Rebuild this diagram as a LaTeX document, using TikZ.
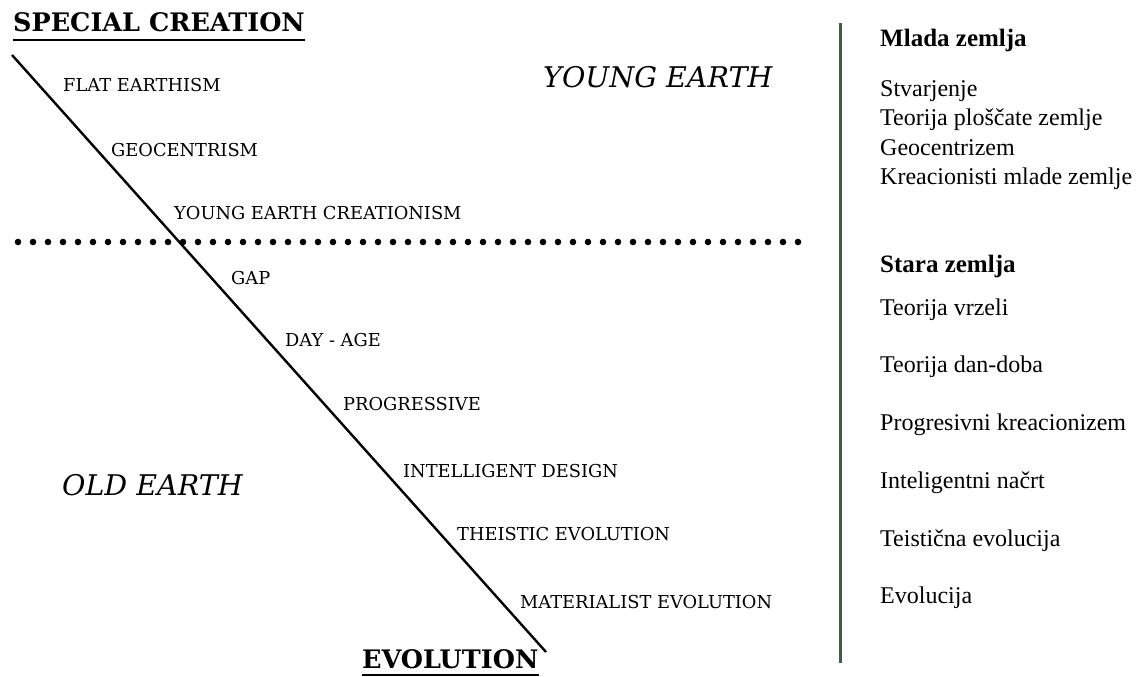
\documentclass[tikz,border=0pt]{standalone}
\usepackage{fontspec}
\usepackage{xcolor}
\setmainfont{DejaVu Serif}
\newfontfamily\timesfont{Liberation Serif}
\definecolor{sepgreen}{HTML}{4A5A4A}

\begin{document}
\begin{tikzpicture}[x=1pt,y=-1pt,
		view/.style={anchor=west,inner sep=0pt,font=\fontsize{17.8}{20}\selectfont},
		era/.style={anchor=west,inner sep=0pt,font=\itshape\fontsize{28.5}{32}\selectfont},
		pole/.style={anchor=base west,inner sep=0pt,font=\bfseries\fontsize{25.5}{30}\selectfont},
		sihead/.style={anchor=base west,inner sep=0pt,font=\timesfont\bfseries\fontsize{25}{30}\selectfont},
		siitem/.style={anchor=base west,inner sep=0pt,font=\timesfont\fontsize{24}{29}\selectfont}]
		%% The page is as big as the picture, one pt for every pixel
		\fill[white] (0,0) rectangle (1143,677);
		\useasboundingbox (0,0) rectangle (1143,677);
		%% The two ends of the scale, with their underlines
		\node[pole] (special) at (13,32) {SPECIAL CREATION};
		\node[pole] (evolution) at (362,668) {EVOLUTION};
		\draw[line width=2.4pt] ([yshift=-8pt]special.base west) -- ([yshift=-8pt]special.base east);
		\draw[line width=2.4pt] ([yshift=-7pt]evolution.base west) -- ([yshift=-7pt]evolution.base east);
		%% The slope from creation down to evolution
		\coordinate (slope top) at (12,55);
		\coordinate (slope bottom) at (546,652);
		\draw[line width=2.4pt] (slope top) -- (slope bottom);
		%% Dotted border between young and old earth
		\coordinate (border west) at (18,242);
		\coordinate (border east) at (798,242);
		\draw[line width=6.6pt, line cap=round, dash pattern=on 0pt off 15pt] (border west) -- (border east);
		%% The views along the slope
		\node[view] (flat) at (63,85) {FLAT EARTHISM};
		\node[view] (geo) at (111,150) {GEOCENTRISM};
		\node[view] (yec) at (174,213) {YOUNG EARTH CREATIONISM};
		\node[view] (gap) at (231,278) {GAP};
		\node[view] (dayage) at (285,340) {DAY - AGE};
		\node[view] (prog) at (343,404) {PROGRESSIVE};
		\node[view] (design) at (403,471) {INTELLIGENT DESIGN};
		\node[view] (theistic) at (457,534) {THEISTIC EVOLUTION};
		\node[view] (material) at (520,602) {MATERIALIST EVOLUTION};
		\node[era] (young) at (543,77) {YOUNG EARTH};
		\node[era] (old) at (62,485) {OLD EARTH};
		%% Separator and the Slovene list on the right
		\coordinate (sep top) at (840,23);
		\coordinate (sep bottom) at (840,663);
		\draw[sepgreen, line width=3pt] (sep top) -- (sep bottom);
		\node[sihead] (mlada) at (880,47) {Mlada zemlja};
		\node[siitem] (stv) at (880,96) {Stvarjenje};
		\node[siitem] (plosc) at (880,125) {Teorija ploščate zemlje};
		\node[siitem] (geoc) at (880,155) {Geocentrizem};
		\node[siitem] (kreac) at (880,184) {Kreacionisti mlade zemlje};
		\node[sihead] (stara) at (880,272) {Stara zemlja};
		\node[siitem] (vrzel) at (880,315) {Teorija vrzeli};
		\node[siitem] (dandoba) at (880,372) {Teorija dan-doba};
		\node[siitem] (progk) at (880,430) {Progresivni kreacionizem};
		\node[siitem] (nacrt) at (880,488) {Inteligentni načrt};
		\node[siitem] (teist) at (880,546) {Teistična evolucija};
		\node[siitem] (evol) at (880,603) {Evolucija};
	\end{tikzpicture}
\end{document}
